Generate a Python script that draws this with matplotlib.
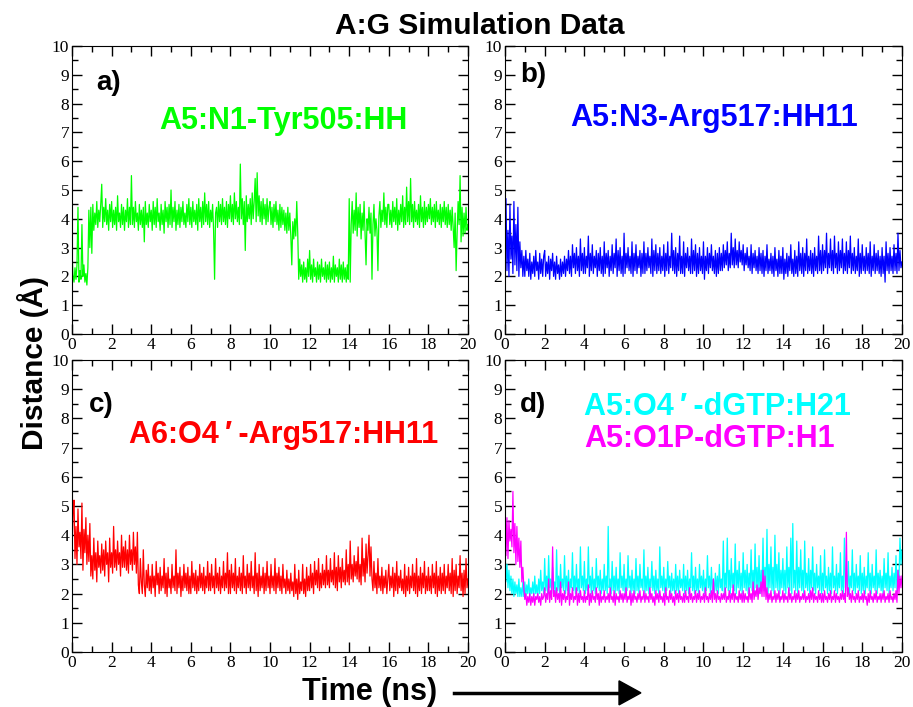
import numpy as np
import matplotlib
matplotlib.use("Agg")
from matplotlib import pyplot as plt
from matplotlib.ticker import MultipleLocator

# distances (Angstrom) sampled every 0.05 ns over 20 ns, one row per ns
tyr505_hh = [
    2.8, 2.0, 1.8, 2.3, 1.9, 2.4, 4.4, 1.8, 2.2, 1.9, 3.8, 2.0, 2.4, 1.8, 2.1, 1.7, 2.3, 4.3, 3.0, 4.4,
    2.8, 4.5, 3.6, 4.2, 3.8, 4.6, 3.7, 4.3, 3.9, 4.5, 5.2, 3.7, 4.4, 3.9, 4.7, 3.8, 4.3, 3.6, 4.5, 3.9,
    4.6, 3.7, 4.3, 3.8, 4.4, 3.6, 4.8, 3.9, 4.2, 3.7, 4.5, 3.8, 4.4, 3.6, 4.3, 3.9, 4.7, 3.7, 4.4, 3.8,
    5.5, 3.8, 4.4, 3.7, 4.6, 3.9, 4.2, 3.6, 4.5, 3.8, 4.3, 3.7, 4.4, 3.2, 4.6, 3.8, 4.2, 3.7, 4.5, 3.9,
    4.3, 3.6, 4.6, 3.8, 4.4, 3.7, 4.7, 3.9, 4.2, 3.6, 4.5, 3.8, 4.3, 3.5, 4.6, 3.9, 4.4, 3.7, 4.5, 3.8,
    5.0, 3.7, 4.4, 3.9, 4.6, 3.6, 4.3, 3.8, 4.5, 3.7, 4.4, 3.9, 4.6, 3.8, 4.2, 3.7, 4.5, 3.9, 4.7, 3.8,
    4.4, 3.7, 4.6, 3.9, 4.3, 3.8, 4.5, 3.6, 4.7, 3.9, 4.4, 3.7, 4.6, 3.8, 4.9, 3.9, 4.5, 3.8, 4.6, 3.7,
    4.3, 3.9, 4.5, 3.6, 1.9, 4.2, 4.4, 3.7, 4.6, 3.9, 4.5, 3.8, 4.7, 3.9, 4.4, 3.8, 4.6, 3.7, 4.5, 4.0,
    4.8, 3.9, 4.5, 3.8, 4.9, 4.0, 4.6, 3.9, 4.4, 3.8, 5.9, 4.0, 4.7, 3.8, 4.6, 2.9, 4.8, 3.9, 4.5, 4.0,
    4.7, 3.8, 4.9, 4.0, 4.6, 5.4, 3.9, 5.6, 4.1, 4.8, 3.9, 4.6, 3.8, 4.7, 4.0, 4.5, 3.8, 4.7, 3.9, 4.4,
    4.6, 3.8, 4.4, 3.7, 4.5, 3.9, 4.6, 3.8, 4.3, 3.6, 4.5, 3.7, 4.4, 3.8, 4.3, 3.6, 4.2, 3.5, 4.4, 3.6,
    4.2, 3.4, 2.4, 3.9, 3.3, 4.0, 3.4, 4.6, 3.5, 1.9, 2.6, 2.0, 2.4, 1.8, 2.5, 1.9, 2.3, 1.8, 2.6, 2.0,
    2.9, 1.9, 2.4, 1.8, 2.6, 2.0, 2.3, 1.8, 2.5, 1.9, 2.4, 1.8, 2.6, 2.0, 2.3, 1.9, 2.5, 1.8, 2.4, 1.9,
    2.5, 1.8, 2.3, 1.9, 2.7, 1.8, 2.4, 2.0, 2.3, 1.8, 2.6, 1.9, 2.4, 1.8, 2.5, 1.9, 2.3, 1.8, 2.4, 1.9,
    4.7, 1.8, 3.8, 4.6, 3.5, 4.3, 3.6, 4.9, 3.4, 4.4, 3.7, 4.5, 3.3, 4.2, 3.6, 4.6, 3.5, 2.4, 4.0, 3.6,
    4.4, 3.5, 4.2, 1.9, 3.8, 4.5, 3.4, 4.0, 3.6, 2.2, 4.1, 4.6, 3.7, 4.3, 3.9, 4.9, 3.8, 4.4, 3.7, 4.5,
    4.5, 3.8, 4.3, 3.7, 4.6, 3.9, 4.4, 3.8, 4.7, 3.6, 4.3, 3.8, 4.5, 3.9, 4.8, 3.7, 4.4, 3.8, 5.1, 3.9,
    4.6, 3.8, 5.4, 3.9, 4.5, 3.7, 4.6, 3.9, 4.3, 3.8, 4.5, 3.7, 4.8, 3.9, 4.4, 3.7, 4.6, 3.8, 4.4, 3.9,
    4.5, 4.0, 4.7, 3.8, 4.4, 3.9, 4.5, 3.7, 4.6, 3.9, 4.3, 3.8, 4.5, 3.7, 4.4, 3.9, 4.6, 3.8, 4.4, 3.7,
    4.5, 3.8, 4.3, 3.6, 4.4, 3.7, 3.0, 4.2, 2.2, 3.5, 4.6, 3.8, 5.5, 3.2, 4.4, 3.4, 4.2, 3.5, 4.4, 3.6,
    3.8]

arg517_n3 = [
    3.0, 4.7, 2.2, 3.6, 2.0, 4.5, 2.6, 3.4, 2.1, 4.6, 2.4, 3.8, 2.2, 4.4, 2.0, 3.2, 2.3, 2.9, 2.0, 2.7,
    2.0, 2.9, 2.2, 2.6, 2.0, 2.8, 1.9, 2.5, 2.1, 2.7, 2.0, 2.9, 2.2, 2.5, 1.9, 2.8, 2.1, 2.6, 2.0, 2.7,
    2.9, 2.0, 2.5, 2.1, 2.7, 1.9, 2.6, 2.2, 2.8, 2.0, 2.5, 1.9, 2.7, 2.1, 2.4, 1.9, 2.6, 2.0, 2.5, 2.1,
    2.7, 2.0, 2.6, 2.2, 2.9, 2.1, 2.7, 2.0, 3.1, 2.3, 2.8, 2.1, 3.0, 2.2, 2.7, 2.0, 3.3, 2.2, 2.8, 2.1,
    3.0, 2.1, 2.7, 2.3, 3.4, 2.0, 2.8, 2.2, 3.1, 2.1, 2.7, 2.3, 2.9, 2.0, 2.8, 2.2, 3.0, 2.1, 2.7, 2.0,
    3.2, 2.1, 2.8, 2.3, 2.9, 2.0, 2.7, 2.2, 3.1, 2.1, 2.8, 2.3, 3.3, 2.0, 2.9, 2.2, 3.0, 2.1, 2.7, 2.0,
    3.5, 2.1, 2.8, 2.3, 3.0, 2.2, 2.7, 2.1, 3.2, 2.0, 2.8, 2.2, 3.1, 2.1, 2.7, 2.3, 2.9, 2.0, 2.8, 2.1,
    3.2, 2.1, 2.8, 2.2, 3.0, 2.3, 2.7, 2.1, 3.3, 2.0, 2.9, 2.2, 3.1, 2.1, 2.8, 2.2, 3.0, 2.1, 2.7, 2.2,
    3.1, 2.0, 2.8, 2.2, 3.2, 2.1, 2.7, 2.3, 3.5, 2.2, 2.9, 2.1, 3.0, 2.0, 2.8, 2.2, 3.4, 2.1, 2.7, 2.1,
    3.2, 2.0, 2.8, 2.3, 3.0, 2.2, 2.7, 2.1, 3.3, 2.1, 2.9, 2.2, 3.1, 2.0, 2.8, 2.1, 3.0, 2.2, 2.7, 2.1,
    3.2, 1.9, 2.7, 2.2, 3.0, 2.1, 2.8, 2.3, 3.1, 2.2, 2.7, 2.1, 2.9, 2.0, 2.8, 2.1, 3.0, 2.2, 2.8, 2.2,
    3.1, 2.3, 2.9, 2.4, 3.2, 2.2, 2.8, 2.3, 3.5, 2.4, 3.0, 2.3, 3.3, 2.4, 2.9, 2.3, 3.2, 2.5, 2.9, 2.4,
    3.1, 2.2, 2.8, 2.4, 3.0, 2.3, 2.7, 2.2, 3.1, 2.1, 2.8, 2.3, 2.9, 2.2, 2.7, 2.1, 3.0, 2.2, 2.8, 2.1,
    2.9, 2.0, 2.7, 2.2, 3.1, 2.1, 2.6, 2.2, 2.8, 2.1, 2.7, 2.0, 3.0, 2.2, 2.6, 2.0, 2.9, 2.1, 2.7, 2.1,
    3.0, 1.9, 2.6, 2.1, 2.8, 2.0, 2.7, 2.2, 3.1, 2.1, 2.6, 2.0, 2.9, 2.1, 2.7, 2.0, 3.2, 2.2, 2.8, 2.1,
    3.0, 2.0, 2.8, 2.2, 3.3, 2.1, 2.7, 2.2, 2.9, 2.1, 2.8, 2.0, 3.0, 2.2, 2.7, 2.1, 3.4, 2.2, 2.9, 2.1,
    3.1, 2.2, 2.9, 2.3, 3.5, 2.1, 2.8, 2.3, 3.3, 2.2, 2.9, 2.1, 3.4, 2.3, 2.8, 2.1, 3.2, 2.2, 2.9, 2.3,
    3.3, 2.1, 2.8, 2.2, 3.2, 2.1, 2.9, 2.3, 3.4, 2.1, 2.8, 2.2, 3.0, 2.1, 2.7, 2.2, 3.3, 2.0, 2.8, 2.1,
    3.1, 2.2, 2.7, 2.1, 3.0, 2.2, 2.8, 2.1, 3.2, 2.0, 2.7, 2.2, 3.1, 2.1, 2.8, 2.2, 2.9, 2.1, 2.7, 2.0,
    3.0, 2.1, 2.7, 1.8, 3.2, 2.2, 2.8, 2.1, 3.0, 2.2, 2.7, 2.1, 3.1, 2.2, 2.8, 2.1, 3.5, 2.2, 2.9, 2.3,
    2.5]

arg517_o4 = [
    3.5, 4.8, 5.2, 3.2, 4.3, 3.0, 4.9, 3.6, 4.1, 3.2, 5.1, 2.8, 4.2, 3.4, 4.6, 3.0, 4.0, 3.1, 4.4, 2.6,
    3.3, 2.5, 3.9, 2.8, 3.4, 2.4, 3.8, 2.9, 3.3, 2.7, 3.7, 2.8, 3.5, 2.6, 3.8, 3.0, 3.4, 2.4, 3.9, 2.9,
    3.4, 2.7, 4.3, 2.9, 3.5, 2.8, 3.8, 3.0, 3.4, 2.6, 4.0, 2.9, 3.6, 2.9, 3.8, 2.8, 3.5, 2.7, 4.0, 3.0,
    3.5, 2.8, 4.1, 3.0, 3.6, 2.7, 4.1, 2.3, 2.0, 3.2, 2.4, 2.0, 3.5, 2.3, 1.9, 2.8, 2.2, 3.0, 2.1, 2.6,
    2.0, 3.0, 2.2, 2.6, 1.9, 3.1, 2.3, 2.7, 2.0, 2.9, 2.1, 2.6, 2.2, 3.2, 2.0, 2.7, 1.9, 2.9, 2.2, 2.5,
    2.0, 3.0, 2.2, 2.6, 2.1, 3.5, 2.0, 2.7, 2.2, 2.9, 1.9, 2.6, 2.1, 3.0, 2.2, 2.7, 2.1, 2.9, 2.0, 2.6,
    2.0, 3.1, 2.2, 2.7, 2.1, 2.8, 2.0, 2.6, 2.1, 3.0, 2.2, 2.7, 2.1, 2.9, 2.0, 2.6, 2.2, 3.1, 2.1, 2.7,
    2.1, 3.0, 2.2, 2.6, 2.0, 3.2, 2.2, 2.7, 2.1, 2.9, 2.0, 2.6, 2.2, 3.1, 2.1, 2.7, 2.2, 3.4, 2.0, 2.8,
    2.0, 3.0, 2.2, 2.7, 2.1, 3.2, 2.0, 2.6, 2.2, 2.9, 2.1, 2.7, 2.0, 3.3, 2.2, 2.6, 2.0, 3.0, 2.2, 2.7,
    2.1, 3.1, 2.2, 2.6, 2.0, 3.4, 2.1, 2.7, 1.9, 3.0, 2.1, 2.6, 2.2, 2.9, 2.0, 2.7, 2.1, 3.1, 2.2, 2.6,
    2.0, 3.0, 2.2, 2.6, 2.1, 3.2, 2.0, 2.7, 2.2, 2.9, 2.1, 2.6, 2.0, 3.0, 2.2, 2.5, 2.0, 2.8, 2.1, 2.5,
    2.0, 2.7, 2.1, 2.4, 1.9, 3.0, 2.0, 2.5, 1.8, 2.8, 2.0, 2.4, 2.1, 3.0, 2.0, 2.5, 1.9, 2.9, 2.1, 2.6,
    2.1, 3.0, 2.2, 2.7, 2.0, 3.1, 2.3, 2.8, 2.2, 3.2, 2.1, 2.7, 2.2, 3.0, 2.3, 2.8, 2.2, 3.3, 2.3, 2.8,
    2.2, 3.2, 2.4, 2.8, 2.3, 3.4, 2.2, 2.9, 2.1, 3.3, 2.4, 2.9, 2.2, 3.2, 2.4, 2.8, 2.3, 3.5, 2.4, 3.0,
    2.3, 3.8, 2.5, 3.0, 2.4, 3.3, 2.6, 3.1, 2.5, 3.6, 2.4, 3.0, 2.3, 3.9, 2.6, 3.2, 2.4, 3.7, 2.7, 3.3,
    4.0, 2.6, 3.6, 2.5, 2.1, 3.1, 2.2, 2.7, 2.0, 3.2, 2.2, 2.6, 2.1, 2.9, 2.0, 2.6, 2.2, 2.8, 2.0, 2.5,
    3.0, 2.1, 2.6, 2.2, 2.9, 1.9, 2.7, 2.1, 3.1, 2.0, 2.6, 2.2, 2.8, 2.1, 2.5, 2.0, 3.0, 1.9, 2.6, 2.1,
    2.9, 2.0, 2.6, 2.2, 3.0, 2.1, 2.7, 2.0, 3.2, 1.9, 2.6, 2.1, 2.9, 2.0, 2.7, 2.2, 3.1, 2.0, 2.6, 2.1,
    2.9, 2.1, 2.6, 2.0, 3.0, 2.2, 2.7, 2.0, 3.1, 1.9, 2.6, 2.1, 2.9, 2.0, 2.7, 2.1, 3.0, 2.0, 2.6, 2.2,
    3.0, 2.1, 2.7, 2.0, 3.2, 1.9, 2.8, 2.1, 3.0, 2.0, 2.6, 2.2, 3.3, 2.1, 2.7, 1.9, 2.8, 2.0, 3.2, 2.2,
    2.5]

dgtp_h21 = [
    3.7, 2.4, 3.0, 2.2, 2.8, 2.1, 2.6, 2.0, 2.5, 1.9, 2.4, 2.0, 2.3, 1.9, 2.5, 1.9, 2.2, 1.9, 2.4, 1.9,
    2.4, 1.9, 2.3, 2.0, 2.5, 1.9, 2.2, 2.0, 2.4, 1.9, 2.6, 2.0, 2.3, 1.9, 2.5, 2.0, 2.8, 2.1, 2.4, 2.0,
    3.2, 2.1, 2.6, 2.0, 3.3, 2.2, 2.5, 2.0, 2.9, 2.1, 2.4, 2.0, 3.5, 2.1, 2.6, 2.0, 3.0, 2.2, 2.5, 2.1,
    3.3, 2.0, 2.6, 2.1, 2.8, 2.0, 2.5, 2.2, 3.4, 2.1, 2.6, 2.0, 3.0, 2.1, 2.5, 2.0, 3.6, 2.2, 2.6, 2.1,
    3.1, 2.0, 2.5, 2.1, 3.6, 2.2, 2.6, 2.0, 2.9, 2.1, 2.5, 2.0, 3.2, 2.2, 2.6, 2.1, 2.8, 2.0, 2.5, 2.1,
    3.0, 2.1, 2.6, 2.0, 4.3, 2.2, 2.5, 2.0, 3.1, 2.1, 2.6, 2.0, 2.9, 2.1, 2.5, 2.0, 3.4, 2.2, 2.6, 2.1,
    3.0, 2.0, 2.5, 2.1, 3.3, 2.2, 2.6, 2.0, 2.8, 2.1, 2.5, 2.0, 3.2, 2.1, 2.6, 2.0, 3.0, 2.2, 2.5, 2.1,
    3.5, 2.0, 2.6, 2.1, 2.9, 2.0, 2.5, 2.2, 3.1, 2.1, 2.6, 2.0, 2.8, 2.1, 2.5, 2.0, 3.6, 2.2, 2.6, 2.1,
    2.9, 2.0, 2.5, 2.1, 3.1, 2.2, 2.6, 2.0, 2.7, 2.1, 2.5, 2.0, 3.0, 2.1, 2.6, 2.0, 2.8, 2.2, 2.5, 2.1,
    3.0, 2.0, 2.6, 2.1, 2.8, 2.0, 2.5, 2.2, 3.4, 2.1, 2.6, 2.0, 2.9, 2.1, 2.5, 2.0, 3.0, 2.2, 2.6, 2.1,
    2.8, 2.0, 2.5, 2.1, 3.3, 2.2, 2.6, 2.0, 2.9, 2.1, 2.5, 2.0, 2.7, 2.1, 2.6, 2.0, 3.0, 2.2, 2.5, 2.1,
    3.8, 2.0, 2.7, 2.2, 3.9, 2.1, 2.8, 2.0, 3.2, 2.2, 2.7, 2.1, 3.7, 2.0, 2.8, 2.2, 3.1, 2.1, 2.7, 2.0,
    3.4, 2.2, 2.8, 2.1, 3.0, 2.0, 2.7, 2.2, 3.5, 2.1, 2.8, 2.0, 3.7, 2.2, 2.9, 2.1, 3.3, 2.0, 2.8, 2.2,
    3.9, 2.1, 2.9, 2.2, 4.2, 2.0, 3.0, 2.2, 3.6, 2.1, 2.9, 2.0, 4.0, 2.2, 3.0, 2.1, 3.4, 2.0, 2.8, 2.2,
    3.2, 2.1, 2.8, 2.0, 3.6, 2.2, 2.9, 2.1, 3.9, 2.0, 4.4, 2.2, 2.8, 2.1, 3.8, 2.0, 2.9, 2.2, 3.5, 2.1,
    2.8, 2.0, 3.8, 2.2, 2.7, 2.1, 3.2, 2.0, 2.8, 2.2, 3.6, 2.1, 2.7, 2.0, 3.0, 2.2, 2.6, 2.1, 3.3, 2.0,
    2.7, 2.1, 3.5, 2.2, 2.6, 2.0, 2.9, 2.1, 2.7, 2.0, 3.6, 2.2, 2.6, 2.1, 3.0, 2.0, 2.7, 2.2, 3.4, 2.1,
    2.6, 2.0, 3.9, 2.2, 2.7, 2.1, 3.1, 2.0, 2.6, 2.2, 3.5, 2.1, 2.7, 2.0, 3.0, 2.2, 2.6, 2.1, 3.3, 2.0,
    2.7, 2.1, 2.9, 2.0, 2.6, 2.2, 3.4, 2.1, 2.7, 2.0, 3.0, 2.2, 2.6, 2.1, 3.5, 2.0, 2.7, 2.2, 2.8, 2.1,
    2.6, 2.0, 3.2, 2.2, 2.7, 2.1, 3.4, 2.0, 2.6, 2.2, 2.9, 2.1, 2.7, 2.2, 3.3, 2.1, 2.8, 2.5, 3.9, 3.0,
    3.5]

dgtp_h1 = [
    5.6, 3.3, 4.6, 3.2, 4.5, 3.8, 4.2, 3.6, 5.5, 3.4, 4.4, 3.0, 4.3, 3.1, 3.9, 2.9, 3.8, 2.4, 2.9, 2.2,
    1.8, 2.0, 1.6, 1.9, 1.7, 2.0, 1.6, 1.9, 1.7, 2.0, 1.6, 1.9, 1.8, 2.0, 1.7, 1.9, 1.6, 2.0, 1.8, 1.9,
    2.2, 1.7, 2.0, 1.8, 2.5, 1.7, 2.1, 1.8, 3.6, 1.9, 2.1, 1.7, 2.2, 1.8, 2.0, 1.7, 2.4, 1.6, 2.0, 1.8,
    2.1, 1.7, 1.9, 1.8, 2.4, 1.6, 2.0, 1.8, 2.2, 1.7, 1.9, 1.8, 2.2, 1.6, 2.0, 1.7, 2.1, 1.8, 1.9, 1.7,
    2.1, 1.7, 1.9, 1.8, 2.3, 1.6, 2.0, 1.7, 2.1, 1.8, 1.9, 1.7, 2.2, 1.8, 2.0, 1.6, 2.1, 1.7, 1.9, 1.8,
    2.1, 1.7, 1.9, 1.8, 2.0, 1.7, 2.2, 1.8, 1.9, 1.7, 2.1, 1.6, 2.0, 1.8, 1.9, 1.7, 2.1, 1.8, 2.0, 1.7,
    2.0, 1.8, 2.2, 1.7, 1.9, 1.8, 2.1, 1.6, 2.0, 1.7, 2.1, 1.8, 1.9, 1.7, 2.0, 1.8, 2.1, 1.7, 1.9, 1.8,
    2.1, 1.7, 2.0, 1.8, 1.9, 1.7, 2.2, 1.8, 2.0, 1.7, 1.9, 1.6, 2.1, 1.8, 2.0, 1.7, 2.1, 1.8, 1.9, 1.7,
    2.0, 1.6, 2.2, 1.8, 1.9, 1.7, 2.1, 1.8, 2.0, 1.7, 1.9, 1.6, 2.1, 1.8, 2.0, 1.7, 2.1, 1.8, 1.9, 1.7,
    2.0, 1.7, 2.1, 1.8, 1.9, 1.7, 2.2, 1.8, 2.0, 1.7, 1.9, 1.8, 2.1, 1.7, 2.0, 1.8, 2.1, 1.7, 1.9, 1.8,
    2.0, 1.7, 2.2, 1.8, 1.9, 1.7, 2.0, 1.8, 2.1, 1.7, 2.5, 1.8, 2.0, 1.7, 2.1, 1.8, 1.9, 1.7, 2.0, 1.8,
    2.0, 1.8, 2.2, 1.7, 1.9, 1.8, 2.1, 1.7, 2.0, 1.8, 2.3, 1.7, 2.0, 1.8, 1.9, 1.7, 2.1, 1.8, 2.0, 1.7,
    2.1, 1.7, 2.0, 1.8, 1.9, 1.7, 2.2, 1.8, 2.0, 1.7, 2.4, 1.8, 2.1, 1.9, 2.3, 1.8, 2.2, 2.0, 2.4, 1.9,
    2.8, 1.9, 2.6, 1.8, 2.2, 1.7, 2.0, 1.8, 2.1, 1.7, 1.9, 1.8, 2.1, 1.7, 2.0, 1.8, 2.1, 1.7, 1.9, 1.8,
    2.1, 1.7, 2.0, 1.8, 1.9, 1.7, 2.2, 1.8, 2.0, 1.7, 1.9, 1.8, 2.1, 1.7, 2.0, 1.8, 2.1, 1.7, 1.9, 1.8,
    2.0, 1.8, 2.1, 1.7, 1.9, 1.8, 2.0, 1.7, 2.1, 1.8, 2.2, 1.7, 2.0, 1.8, 1.9, 1.7, 2.1, 1.8, 2.0, 1.7,
    2.0, 1.7, 2.1, 1.8, 1.9, 1.7, 2.0, 1.8, 2.1, 1.7, 1.9, 1.8, 2.1, 1.7, 2.0, 1.8, 1.9, 1.7, 2.0, 1.8,
    2.1, 1.8, 2.0, 1.7, 4.1, 1.9, 2.2, 1.8, 2.0, 1.7, 2.1, 1.8, 1.9, 1.7, 2.0, 1.8, 2.1, 1.7, 1.9, 1.8,
    2.0, 1.7, 2.1, 1.8, 1.9, 1.6, 2.0, 1.7, 2.1, 1.8, 1.9, 1.7, 2.0, 1.8, 2.1, 1.7, 1.9, 1.8, 2.0, 1.7,
    2.0, 1.8, 2.1, 1.7, 1.9, 1.8, 2.0, 1.7, 2.1, 1.8, 1.9, 1.7, 2.0, 1.8, 2.1, 1.7, 2.8, 2.0, 2.6, 2.2,
    2.6]

t = np.arange(len(tyr505_hh)) * 0.05

sans = ['Liberation Sans', 'DejaVu Sans']
serif = ['Liberation Serif', 'DejaVu Serif']

fig = plt.figure(figsize=(9.13, 7.07), dpi=100)

# [left, bottom, width, height] for a), b), c), d)
boxes = [
    [0.0789, 0.5276, 0.4337, 0.4073],
    [0.5531, 0.5276, 0.4348, 0.4073],
    [0.0789, 0.0778, 0.4337, 0.4130],
    [0.5531, 0.0778, 0.4348, 0.4130],
]

axs = []
for box in boxes:
    ax = fig.add_axes(box)
    ax.set_xlim(0, 20)
    ax.set_ylim(0, 10)
    ax.xaxis.set_major_locator(MultipleLocator(2))
    ax.xaxis.set_minor_locator(MultipleLocator(1))
    ax.yaxis.set_major_locator(MultipleLocator(1))
    ax.yaxis.set_minor_locator(MultipleLocator(0.5))
    ax.tick_params(which='both', direction='in', top=True, right=True,
                   width=1, pad=2)
    ax.tick_params(which='major', length=7)
    ax.tick_params(which='minor', length=4)
    for lab in ax.get_xticklabels() + ax.get_yticklabels():
        lab.set_family(serif)
        lab.set_fontsize(12.5)
    axs.append(ax)

lw = 0.9
axs[0].plot(t, tyr505_hh, color='#00ff00', lw=lw)
axs[1].plot(t, arg517_n3, color='#0000ff', lw=lw)
axs[2].plot(t, arg517_o4, color='#ff0000', lw=lw)
axs[3].plot(t, dgtp_h21, color='#00ffff', lw=lw)
axs[3].plot(t, dgtp_h1, color='#ff00ff', lw=lw)

panel_kw = dict(fontsize=20, fontweight='bold', family=sans, va='center')
axs[0].text(1.2, 8.7, 'a)', **panel_kw)
axs[1].text(0.76, 9.0, 'b)', **panel_kw)
axs[2].text(0.86, 8.46, 'c)', **panel_kw)
axs[3].text(0.76, 8.46, 'd)', **panel_kw)

prime = '\u2009\u2032\u2009'
lab_kw = dict(fontsize=22, fontweight='bold', family=sans, va='center')
axs[0].text(4.4, 7.4, 'A5:N1-Tyr505:HH', color='#00ff00', **lab_kw)
axs[1].text(3.3, 7.5, 'A5:N3-Arg517:HH11', color='#0000ff', **lab_kw)
axs[2].text(2.9, 7.43, 'A6:O4' + prime + '-Arg517:HH11', color='#ff0000', **lab_kw)
axs[3].text(4.0, 8.4, 'A5:O4' + prime + '-dGTP:H21', color='#00ffff', **lab_kw)
axs[3].text(4.0, 7.3, 'A5:O1P-dGTP:H1', color='#ff00ff', **lab_kw)

fig.text(0.526, 0.952, 'A:G Simulation Data', ha='center', va='baseline',
         fontsize=21.5, fontweight='bold', family=sans)
fig.text(0.036, 0.487, 'Distance (\u00c5)', ha='center', va='center',
         rotation=90, fontsize=21.5, fontweight='bold', family=sans)
fig.text(0.405, 0.01, 'Time (ns)', ha='center', va='baseline',
         fontsize=22, fontweight='bold', family=sans)
fig.add_artist(plt.Line2D([0.497, 0.68], [0.02, 0.02], color='black', lw=2.5))
fig.patches.append(plt.Polygon([[0.678, 0.037], [0.678, 0.003], [0.702, 0.02]],
                               closed=True, color='black',
                               transform=fig.transFigure, figure=fig))

fig.savefig('out.png', dpi=100)
